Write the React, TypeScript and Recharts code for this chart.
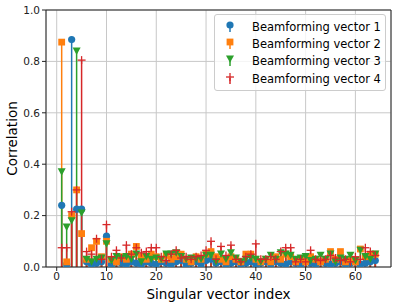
import React from "react";
import {
  CartesianGrid,
  ErrorBar,
  Legend,
  ReferenceLine,
  Scatter,
  ScatterChart,
  XAxis,
  YAxis,
} from "recharts";

// singular vector index 1..64
const indices = Array.from({ length: 64 }, (_, i) => i + 1);

const vector1 = [
  0.24, 0.01, 0.885, 0.225, 0.225, 0.02, 0.01, 0.015, 0.02, 0.12, 0.01, 0.02,
  0.015, 0.01, 0.02, 0.015, 0.01, 0.02, 0.015, 0.01, 0.02, 0.015, 0.01, 0.02,
  0.025, 0.01, 0.015, 0.02, 0.01, 0.025, 0.03, 0.015, 0.02, 0.01, 0.015, 0.02,
  0.01, 0.015, 0.02, 0.01, 0.015, 0.02, 0.01, 0.02, 0.015, 0.01, 0.02, 0.015,
  0.01, 0.02, 0.015, 0.01, 0.02, 0.015, 0.01, 0.015, 0.02, 0.01, 0.015, 0.02,
  0.01, 0.015, 0.02, 0.025,
];
const vector2 = [
  0.875, 0.02, 0.2, 0.3, 0.13, 0.03, 0.075, 0.1, 0.04, 0.1, 0.03, 0.02, 0.04,
  0.03, 0.05, 0.08, 0.04, 0.03, 0.05, 0.04, 0.03, 0.045, 0.03, 0.04, 0.05, 0.03,
  0.02, 0.04, 0.03, 0.05, 0.06, 0.04, 0.03, 0.02, 0.04, 0.03, 0.02, 0.05, 0.05,
  0.03, 0.02, 0.03, 0.02, 0.04, 0.03, 0.05, 0.04, 0.02, 0.03, 0.02, 0.04, 0.03,
  0.02, 0.03, 0.06, 0.03, 0.06, 0.02, 0.03, 0.02, 0.07, 0.04, 0.05, 0.05,
];
const vector3 = [
  0.37, 0.155, 0.18, 0.84, 0.21, 0.03, 0.02, 0.03, 0.035, 0.09, 0.025, 0.04,
  0.035, 0.04, 0.03, 0.05, 0.02, 0.04, 0.03, 0.035, 0.03, 0.05, 0.05, 0.055,
  0.04, 0.03, 0.035, 0.03, 0.03, 0.045, 0.045, 0.02, 0.05, 0.03, 0.055, 0.035,
  0.02, 0.03, 0.035, 0.03, 0.02, 0.03, 0.045, 0.03, 0.055, 0.05, 0.045, 0.03,
  0.035, 0.04, 0.025, 0.03, 0.045, 0.03, 0.05, 0.02, 0.035, 0.03, 0.045, 0.025,
  0.065, 0.04, 0.03, 0.05,
];
const vector4 = [
  0.075, 0.075, 0.215, 0.3, 0.805, 0.06, 0.05, 0.11, 0.03, 0.165, 0.04, 0.065,
  0.035, 0.085, 0.05, 0.075, 0.055, 0.06, 0.075, 0.075, 0.04, 0.025, 0.05,
  0.065, 0.035, 0.04, 0.03, 0.04, 0.045, 0.065, 0.1, 0.03, 0.08, 0.045, 0.085,
  0.03, 0.02, 0.04, 0.05, 0.09, 0.03, 0.03, 0.04, 0.03, 0.06, 0.075, 0.075,
  0.02, 0.03, 0.02, 0.065, 0.03, 0.025, 0.03, 0.045, 0.035, 0.025, 0.03, 0.02,
  0.04, 0.03, 0.075, 0.06, 0.045,
];

const xTicks = [0, 10, 20, 30, 40, 50, 60];
const yTicks = [0, 0.2, 0.4, 0.6, 0.8, 1.0];

const font = "'DejaVu Sans', sans-serif";

const Marker = ({ kind, cx, cy, color }: any) => {
  if (kind === "circle") return <circle cx={cx} cy={cy} r={3.6} fill={color} />;
  if (kind === "square")
    return <rect x={cx - 3.4} y={cy - 3.4} width={6.8} height={6.8} fill={color} />;
  if (kind === "tri")
    return (
      <polygon
        points={`${cx - 4},${cy - 3.6} ${cx + 4},${cy - 3.6} ${cx},${cy + 3.8}`}
        fill={color}
      />
    );
  return (
    <g stroke={color} strokeWidth={1.3}>
      <line x1={cx - 4} x2={cx + 4} y1={cy} y2={cy} />
      <line x1={cx} x2={cx} y1={cy - 4} y2={cy + 4} />
    </g>
  );
};

const series = [
  { name: "Beamforming vector 1", values: vector1, color: "#1f77b4", kind: "circle" },
  { name: "Beamforming vector 2", values: vector2, color: "#ff7f0e", kind: "square" },
  { name: "Beamforming vector 3", values: vector3, color: "#2ca02c", kind: "tri" },
  { name: "Beamforming vector 4", values: vector4, color: "#d62728", kind: "plus" },
];

const renderLegend = () => (
  <div
    style={{
      background: "rgba(255,255,255,0.8)",
      border: "1px solid #cccccc",
      borderRadius: 3,
      padding: "3px 0 3px 0",
      fontFamily: font,
      fontSize: 11.5,
      color: "#000",
    }}
  >
    {series.map((s) => (
      <div key={s.name} style={{ display: "flex", alignItems: "center", height: 17.3 }}>
        <svg width={37} height={14} style={{ flex: "none" }}>
          <line x1={15} x2={15} y1={6} y2={12} stroke={s.color} strokeWidth={1.5} />
          <Marker kind={s.kind} cx={15} cy={5} color={s.color} />
        </svg>
        <span>{s.name}</span>
      </div>
    ))}
  </div>
);

export default function App() {
  return (
    <div style={{ position: "relative", width: 399, height: 308 }}>
      <style>{`body{margin:0}`}</style>
      <ScatterChart
        width={399}
        height={308}
        margin={{ top: 10, right: 8, left: 0, bottom: 0 }}
      >
        <CartesianGrid stroke="#c8c8c8" strokeWidth={1} />
        <XAxis
          type="number"
          dataKey="x"
          domain={[-2.15, 67.15]}
          ticks={xTicks}
          allowDataOverflow
          height={41}
          tickSize={4}
          stroke="#222"
          tick={{ fill: "#222", fontSize: 10.5, fontFamily: font }}
          label={({ viewBox }: any) => (
            <text
              x={viewBox.x + viewBox.width / 2}
              y={viewBox.y + 27}
              textAnchor="middle"
              dominantBaseline="central"
              fontSize={13.5}
              fontFamily={font}
              fill="#000"
            >
              Singular vector index
            </text>
          )}
        />
        <YAxis
          type="number"
          dataKey="y"
          domain={[0, 1]}
          ticks={yTicks}
          allowDataOverflow
          width={46}
          tickSize={4}
          stroke="#222"
          tickFormatter={(v: number) => v.toFixed(1)}
          tick={{ fill: "#222", fontSize: 10.5, fontFamily: font }}
          label={({ viewBox }: any) => {
            const cx = viewBox.x + 12;
            const cy = viewBox.y + viewBox.height / 2;
            return (
              <text
                x={cx}
                y={cy}
                transform={`rotate(-90 ${cx} ${cy})`}
                textAnchor="middle"
                dominantBaseline="central"
                fontSize={13.5}
                fontFamily={font}
                fill="#000"
              >
                Correlation
              </text>
            );
          }}
        />
        <ReferenceLine y={1} stroke="#222" />
        <ReferenceLine x={67.15} stroke="#222" />
        {series.map((s) => (
          <Scatter
            key={s.name}
            name={s.name}
            data={indices.map((x, i) => ({ x, y: s.values[i], err: [s.values[i], 0] }))}
            isAnimationActive={false}
            shape={(p: any) => <Marker kind={s.kind} cx={p.cx} cy={p.cy} color={s.color} />}
          >
            <ErrorBar
              dataKey="err"
              direction="y"
              width={0}
              stroke={s.color}
              strokeWidth={1.5}
              isAnimationActive={false}
            />
          </Scatter>
        ))}
        <Legend
          layout="vertical"
          align="center"
          verticalAlign="middle"
          content={renderLegend}
          wrapperStyle={{ top: 14, left: 214, width: 172 }}
        />
      </ScatterChart>
    </div>
  );
}
